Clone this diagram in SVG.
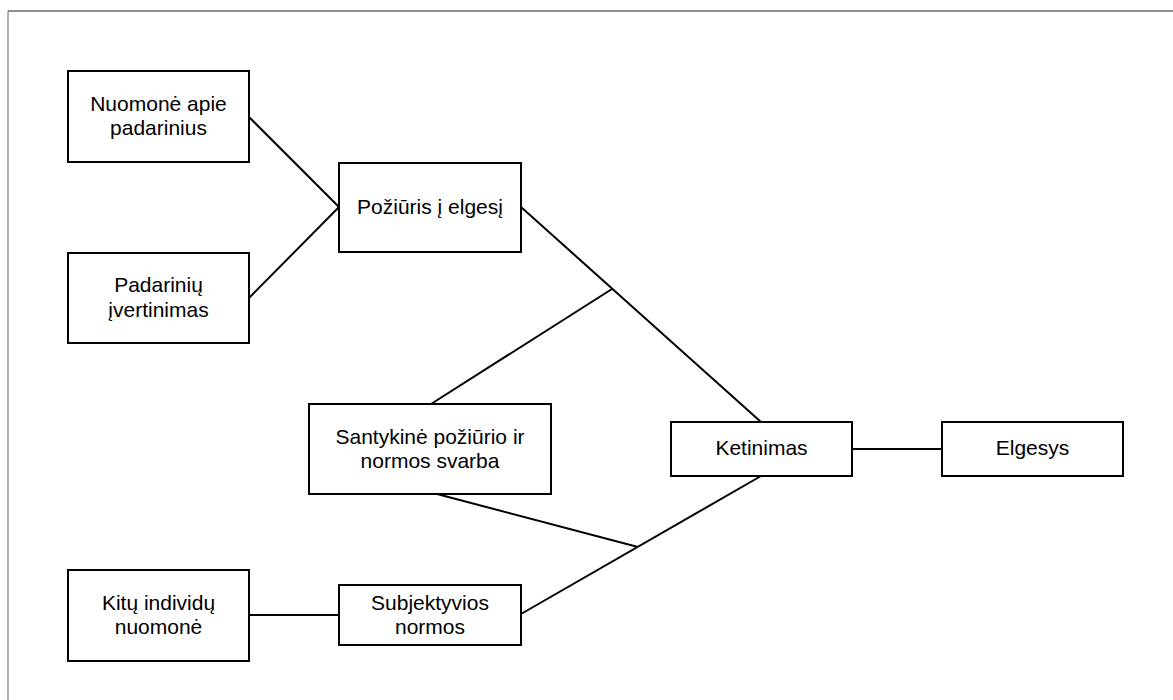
<svg xmlns="http://www.w3.org/2000/svg" width="1173" height="700" viewBox="0 0 1173 700">
<style>
.box{fill:#fff;stroke:#000;stroke-width:2}
.t{font-family:"Liberation Sans",Arial,sans-serif;font-size:21px;fill:#000;text-anchor:middle}
.c{stroke:#000;stroke-width:2;fill:none}
</style>
<rect width="1173" height="700" fill="#fff"/>
<line x1="8" y1="11" x2="1173" y2="11" stroke="#222" stroke-width="1"/>
<line x1="8" y1="11" x2="8" y2="700" stroke="#666" stroke-width="1"/>
<g id="connectors">
<line class="c" x1="249" y1="117" x2="339" y2="207"/>
<line class="c" x1="249" y1="298" x2="339" y2="207"/>
<line class="c" x1="521" y1="207" x2="761" y2="422"/>
<line class="c" x1="431" y1="404" x2="612" y2="289"/>
<line class="c" x1="761" y1="476" x2="521" y2="614"/>
<line class="c" x1="437" y1="494" x2="638" y2="547"/>
<line class="c" x1="249" y1="615" x2="339" y2="615"/>
<line class="c" x1="852" y1="449" x2="942" y2="449"/>
</g>
<g id="n1"><rect class="box" x="68" y="71" width="181" height="91"/><text class="t" x="158.5" y="110.5">Nuomonė apie</text><text class="t" x="158.5" y="135">padarinius</text></g>
<g id="n2"><rect class="box" x="68" y="253" width="181" height="90"/><text class="t" x="158.5" y="292">Padarinių</text><text class="t" x="158.5" y="316.5">įvertinimas</text></g>
<g id="n3"><rect class="box" x="339" y="163" width="182" height="89"/><text class="t" x="430" y="214">Požiūris į elgesį</text></g>
<g id="n4"><rect class="box" x="309" y="404" width="242" height="90"/><text class="t" x="430" y="443.5">Santykinė požiūrio ir</text><text class="t" x="430" y="468">normos svarba</text></g>
<g id="n5"><rect class="box" x="671" y="422" width="181" height="54"/><text class="t" x="761.5" y="455">Ketinimas</text></g>
<g id="n6"><rect class="box" x="942" y="422" width="181" height="54"/><text class="t" x="1032.5" y="455">Elgesys</text></g>
<g id="n7"><rect class="box" x="68" y="570" width="181" height="91"/><text class="t" x="158.5" y="609.5">Kitų individų</text><text class="t" x="158.5" y="633.5">nuomonė</text></g>
<g id="n8"><rect class="box" x="339" y="585" width="182" height="60"/><text class="t" x="430" y="609.5">Subjektyvios</text><text class="t" x="430" y="633.5">normos</text></g>
</svg>
